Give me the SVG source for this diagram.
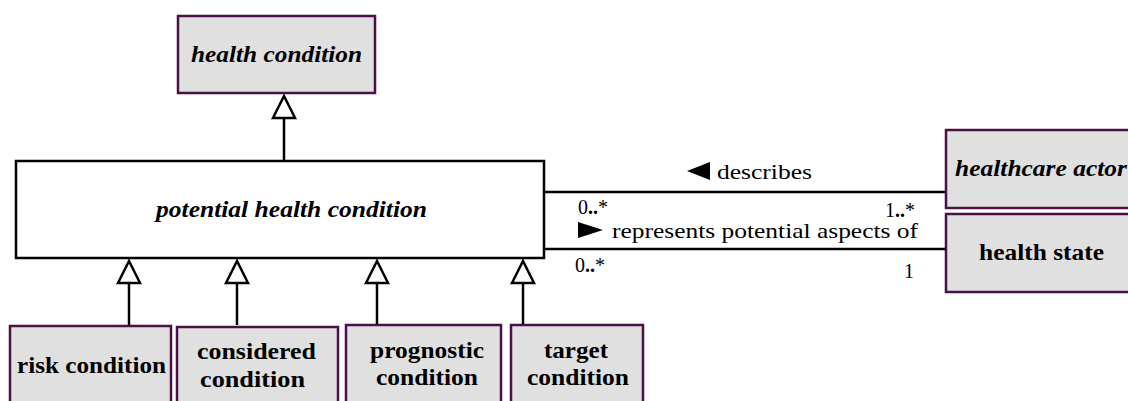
<svg xmlns="http://www.w3.org/2000/svg" width="1128" height="401" viewBox="0 0 1128 401">
  <style>
    .cls { fill: #e0e0e0; stroke: #4b1048; stroke-width: 2.5; }
    .abs { fill: #ffffff; stroke: #000000; stroke-width: 2.5; }
    .name { font-family: "Liberation Serif", "DejaVu Serif", serif; font-size: 23px; font-weight: bold; fill: #000; }
    .it { font-style: italic; }
    .lbl { font-family: "Liberation Serif", "DejaVu Serif", serif; font-size: 21px; fill: #000; }
    .mult { font-family: "Liberation Serif", "DejaVu Serif", serif; font-size: 20px; fill: #000; }
    .dots { font-weight: bold; }
    .line { stroke: #000; stroke-width: 2.5; fill: none; }
    .gen { fill: #ffffff; stroke: #000; stroke-width: 2.5; stroke-linejoin: miter; }
  </style>

  <!-- classes -->
  <g id="health-condition">
    <rect class="cls" x="178" y="16" width="197" height="77"/>
    <text class="name it" x="191" y="62" textLength="171" lengthAdjust="spacingAndGlyphs">health condition</text>
  </g>

  <g id="potential-health-condition">
    <rect class="abs" x="16" y="161" width="528" height="97"/>
    <text class="name it" x="156" y="217" textLength="271" lengthAdjust="spacingAndGlyphs">potential health condition</text>
  </g>

  <g id="healthcare-actor">
    <rect class="cls" x="946" y="130" width="190" height="78"/>
    <text class="name it" x="955" y="176" textLength="172" lengthAdjust="spacingAndGlyphs">healthcare actor</text>
  </g>

  <g id="health-state">
    <rect class="cls" x="946" y="214" width="190" height="78"/>
    <text class="name" x="979" y="260" textLength="125" lengthAdjust="spacingAndGlyphs">health state</text>
  </g>

  <g id="risk-condition">
    <rect class="cls" x="10" y="326" width="161" height="85"/>
    <text class="name" x="17" y="373" textLength="149" lengthAdjust="spacingAndGlyphs">risk condition</text>
  </g>

  <g id="considered-condition">
    <rect class="cls" x="177" y="327" width="161" height="84"/>
    <text class="name" x="197" y="359" textLength="119" lengthAdjust="spacingAndGlyphs">considered</text>
    <text class="name" x="200" y="387" textLength="105" lengthAdjust="spacingAndGlyphs">condition</text>
  </g>

  <g id="prognostic-condition">
    <rect class="cls" x="346" y="325" width="155" height="86"/>
    <text class="name" x="370" y="358" textLength="114" lengthAdjust="spacingAndGlyphs">prognostic</text>
    <text class="name" x="376" y="385" textLength="102" lengthAdjust="spacingAndGlyphs">condition</text>
  </g>

  <g id="target-condition">
    <rect class="cls" x="511" y="325" width="132" height="86"/>
    <text class="name" x="544" y="358" textLength="64" lengthAdjust="spacingAndGlyphs">target</text>
    <text class="name" x="527" y="385" textLength="102" lengthAdjust="spacingAndGlyphs">condition</text>
  </g>

  <!-- connectors -->
  <g id="connectors">
    <!-- generalization: potential -> health condition -->
    <line class="line" x1="284" y1="161" x2="284" y2="118"/>
    <polygon class="gen" points="284,96 273,118 295,118"/>

    <!-- generalizations: subtypes -> potential health condition -->
    <line class="line" x1="129" y1="325" x2="129" y2="283"/>
    <polygon class="gen" points="129,261 118,283 140,283"/>
    <line class="line" x1="237" y1="325" x2="237" y2="283"/>
    <polygon class="gen" points="237,261 226,283 248,283"/>
    <line class="line" x1="377" y1="324" x2="377" y2="283"/>
    <polygon class="gen" points="377,261 366,283 388,283"/>
    <line class="line" x1="523" y1="324" x2="523" y2="283"/>
    <polygon class="gen" points="523,261 512,283 534,283"/>

    <!-- association: describes -->
    <line class="line" x1="545" y1="192" x2="946" y2="192"/>
    <polygon points="687,171 710,162 710,180" fill="#000"/>
    <text class="lbl" x="717" y="179" textLength="95" lengthAdjust="spacingAndGlyphs">describes</text>
    <text class="mult" x="578" y="214">0<tspan class="dots">..</tspan>*</text>
    <text class="mult" x="885" y="217">1<tspan class="dots">..</tspan>*</text>

    <!-- association: represents potential aspects of -->
    <line class="line" x1="545" y1="249" x2="946" y2="249"/>
    <polygon points="578,222 603,230 578,238" fill="#000"/>
    <text class="lbl" x="612" y="238" textLength="306" lengthAdjust="spacingAndGlyphs">represents potential aspects of</text>
    <text class="mult" x="575" y="272">0<tspan class="dots">..</tspan>*</text>
    <text class="mult" x="904" y="278">1</text>
  </g>
</svg>
